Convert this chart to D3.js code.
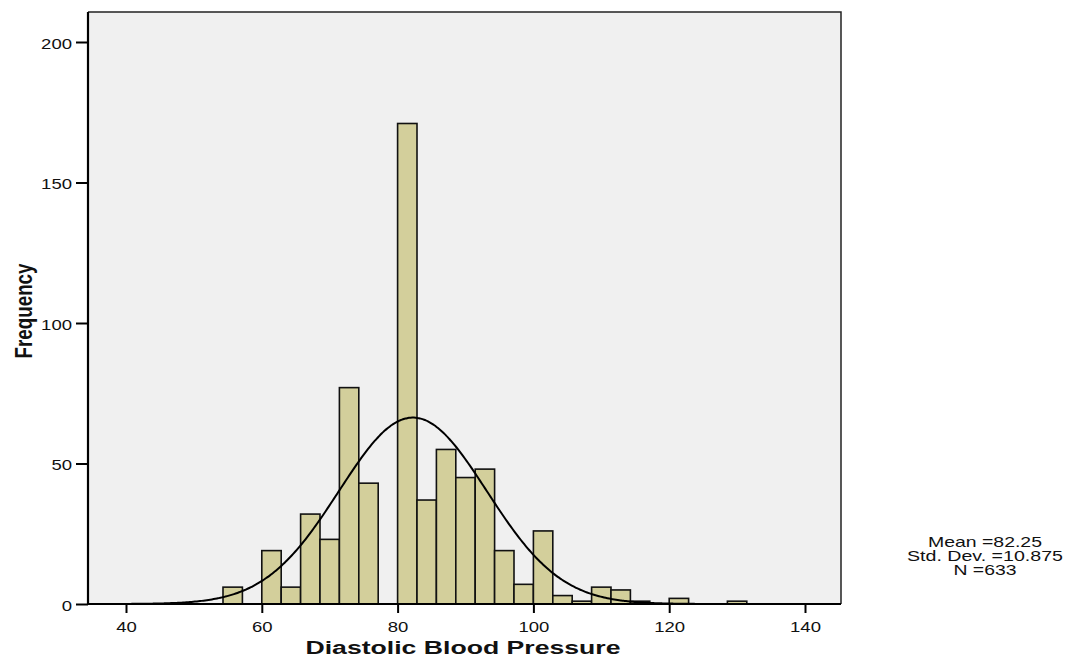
<!DOCTYPE html>
<html>
<head>
<meta charset="utf-8">
<script src="https://cdn.jsdelivr.net/npm/d3@7"></script>
<style>
  html, body { margin: 0; padding: 0; background: #ffffff; }
  svg { display: block; }
  text { font-family: "Liberation Sans", Arial, sans-serif; }
</style>
</head>
<body>
<svg id="chart" width="1066" height="659"></svg>
<script>
// Histogram bins: left edge of each bin (width 20/7) and its frequency
const binWidth = 20 / 7;
const binStarts = [54.2857, 60, 62.8571, 65.7143, 68.5714, 71.4286, 74.2857,
                   80, 82.8571, 85.7143, 88.5714, 91.4286, 94.2857, 97.1429,
                   100, 102.8571, 105.7143, 108.5714, 111.4286, 114.2857,
                   120, 128.5714];
const frequencies = [6, 19, 6, 32, 23, 77, 43,
                     171, 37, 55, 45, 48, 19, 7,
                     26, 3, 1, 6, 5, 1,
                     2, 1];

// Summary statistics for the fitted normal curve
const meanValue = 82.25;
const stdDev = 10.875;
const countN = 633;

const xTicks = [40, 60, 80, 100, 120, 140];
const yTicks = [0, 50, 100, 150, 200];

const svg = d3.select("#chart");
const plot = { left: 88, right: 841, top: 12, bottom: 604 };

const x = d3.scaleLinear().domain([40, 140]).range([126, 805]);
const xDomainFull = [x.invert(plot.left), x.invert(plot.right)];
const y = d3.scaleLinear().domain([0, 200]).range([604, 42]);

// Plot background
svg.append("rect")
  .attr("x", plot.left).attr("y", plot.top)
  .attr("width", plot.right - plot.left).attr("height", plot.bottom - plot.top)
  .attr("fill", "#f0f0f0");

// Top and right frame lines
svg.append("path")
  .attr("d", `M${plot.left},${plot.top}H${plot.right}V${plot.bottom}`)
  .attr("fill", "none").attr("stroke", "#222").attr("stroke-width", 1.5);

// Bars
svg.append("g").selectAll("rect")
  .data(binStarts.map((s, i) => ({ s, f: frequencies[i] })))
  .join("rect")
  .attr("x", d => x(d.s))
  .attr("y", d => y(d.f))
  .attr("width", d => x(d.s + binWidth) - x(d.s))
  .attr("height", d => y(0) - y(d.f))
  .attr("fill", "#d3cf9b")
  .attr("stroke", "#111")
  .attr("stroke-width", 1.6);

// Normal curve scaled to counts per bin
const curvePts = d3.range(xDomainFull[0], xDomainFull[1] + 0.01, 0.25).map(v => {
  const z = (v - meanValue) / stdDev;
  const dens = Math.exp(-0.5 * z * z) / (stdDev * Math.sqrt(2 * Math.PI));
  return [v, countN * binWidth * dens];
});
svg.append("path")
  .datum(curvePts)
  .attr("d", d3.line().x(d => x(d[0])).y(d => y(d[1])).curve(d3.curveBasis))
  .attr("fill", "none")
  .attr("stroke", "#000")
  .attr("stroke-width", 2);

// Axes (wide tick numerals)
const charW = 10.3;
const yAxis = svg.append("g")
  .attr("transform", `translate(${plot.left},0)`)
  .call(d3.axisLeft(y).tickValues(yTicks).tickSize(12).tickPadding(4).tickSizeOuter(0));
const xAxis = svg.append("g")
  .attr("transform", `translate(0,${plot.bottom})`)
  .call(d3.axisBottom(x).tickValues(xTicks).tickSize(9).tickPadding(8).tickSizeOuter(0));

[yAxis, xAxis].forEach(g => {
  g.select(".domain").remove();
  g.selectAll(".tick line").attr("stroke", "#000").attr("stroke-width", 2);
  g.selectAll(".tick text")
    .attr("fill", "#111")
    .style("font-family", "'Liberation Sans', Arial, sans-serif")
    .style("font-size", "15px")
    .attr("lengthAdjust", "spacingAndGlyphs")
    .attr("textLength", function () { return this.textContent.length * charW; });
});
yAxis.selectAll(".tick text").attr("dy", "0.4em");

// Axis lines
svg.append("line")
  .attr("x1", plot.left).attr("x2", plot.left)
  .attr("y1", plot.top).attr("y2", plot.bottom + 1)
  .attr("stroke", "#000").attr("stroke-width", 2.2);
svg.append("line")
  .attr("x1", plot.left - 1).attr("x2", plot.right)
  .attr("y1", plot.bottom).attr("y2", plot.bottom)
  .attr("stroke", "#000").attr("stroke-width", 2.2);

// Axis titles
svg.append("text")
  .attr("x", 463).attr("y", 654)
  .attr("text-anchor", "middle")
  .style("font-size", "18px").style("font-weight", "bold")
  .attr("fill", "#111")
  .attr("lengthAdjust", "spacingAndGlyphs")
  .attr("textLength", 315)
  .text("Diastolic Blood Pressure");

svg.append("text")
  .attr("transform", "translate(32,311) rotate(-90)")
  .attr("text-anchor", "middle")
  .style("font-size", "24px").style("font-weight", "bold")
  .attr("fill", "#111")
  .attr("lengthAdjust", "spacingAndGlyphs")
  .attr("textLength", 95)
  .text("Frequency");

// Summary statistics
const statLines = [
  { t: `Mean =${meanValue.toFixed(2)}`, y: 547, w: 114 },
  { t: `Std. Dev. =${stdDev.toFixed(3)}`, y: 561, w: 156 },
  { t: `N =${countN}`, y: 575, w: 63 }
];
svg.append("g").selectAll("text")
  .data(statLines)
  .join("text")
  .attr("x", 985)
  .attr("y", d => d.y)
  .attr("text-anchor", "middle")
  .style("font-size", "14.5px")
  .attr("fill", "#111")
  .attr("lengthAdjust", "spacingAndGlyphs")
  .attr("textLength", d => d.w)
  .text(d => d.t);
</script>
</body>
</html>
